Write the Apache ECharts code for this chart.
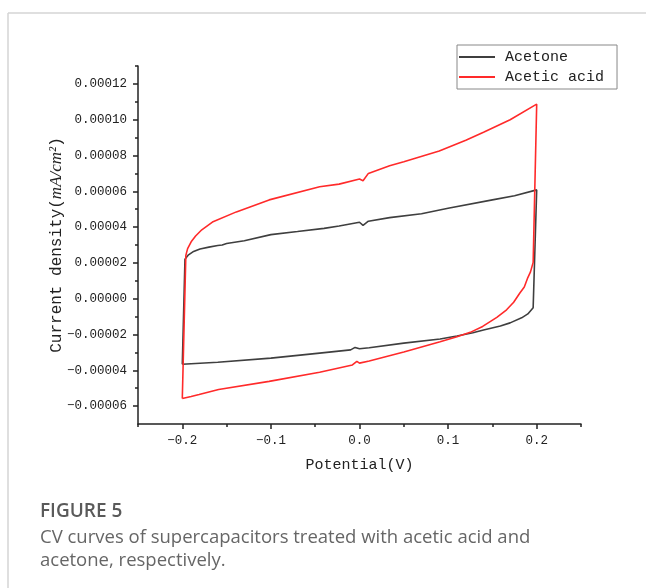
<!DOCTYPE html>
<html>
<head>
<meta charset="utf-8">
<script src="https://cdn.jsdelivr.net/npm/echarts@6/dist/echarts.min.js"></script>
<style>
  html, body { margin: 0; padding: 0; background: #fff; }
  #chart { width: 646px; height: 588px; }
</style>
</head>
<body>
<div id="chart"></div>
<script>
// CV loops: potential (V) and current density (mA/cm2)
var acetonePotential = [-0.200, -0.197, -0.193, -0.188, -0.180, -0.170, -0.160, -0.155, -0.150, -0.130, -0.100, -0.070, -0.040, -0.023, 0.000, 0.004, 0.010, 0.034, 0.070, 0.100, 0.150, 0.175, 0.200,
  0.196, 0.190, 0.183, 0.170, 0.159, 0.140, 0.128, 0.110, 0.091, 0.050, 0.011, 0.000, -0.005, -0.010, -0.045, -0.100, -0.160, -0.200];
var acetoneCurrent = [-0.0000366, 0.0000220, 0.0000245, 0.0000262, 0.0000278, 0.0000288, 0.0000297, 0.0000300, 0.0000308, 0.0000324, 0.0000358, 0.0000375, 0.0000393, 0.0000406, 0.0000427, 0.0000410, 0.0000433, 0.0000453, 0.0000475, 0.0000505, 0.0000552, 0.0000575, 0.0000608,
  -0.0000050, -0.0000085, -0.0000107, -0.0000135, -0.0000152, -0.0000175, -0.0000190, -0.0000208, -0.0000225, -0.0000248, -0.0000274, -0.0000280, -0.0000272, -0.0000286, -0.0000304, -0.0000332, -0.0000355, -0.0000366];

var aceticPotential = [-0.200, -0.196, -0.194, -0.190, -0.185, -0.178, -0.166, -0.139, -0.102, -0.045, -0.023, 0.000, 0.004, 0.010, 0.034, 0.050, 0.090, 0.120, 0.140, 0.170, 0.200,
  0.196, 0.193, 0.190, 0.186, 0.181, 0.174, 0.166, 0.155, 0.139, 0.125, 0.110, 0.091, 0.050, 0.011, 0.000, -0.003, -0.008, -0.045, -0.102, -0.159, -0.181, -0.190, -0.200];
var aceticCurrent = [-0.0000558, 0.0000242, 0.0000280, 0.0000318, 0.0000350, 0.0000385, 0.0000428, 0.0000485, 0.0000552, 0.0000625, 0.0000640, 0.0000669, 0.0000659, 0.0000700, 0.0000743, 0.0000765, 0.0000825, 0.0000885, 0.0000930, 0.0001000, 0.0001087,
  0.0000203, 0.0000150, 0.0000118, 0.0000065, 0.0000032, -0.0000020, -0.0000062, -0.0000104, -0.0000155, -0.0000188, -0.0000212, -0.0000240, -0.0000298, -0.0000348, -0.0000360, -0.0000350, -0.0000370, -0.0000411, -0.0000462, -0.0000507, -0.0000535, -0.0000546, -0.0000558];

var xTickLabels = [-0.2, -0.1, 0.0, 0.1, 0.2];
var xMinorTicks = [-0.25, -0.15, -0.05, 0.05, 0.15, 0.25];
var yTickLabels = [-0.00006, -0.00004, -0.00002, 0, 0.00002, 0.00004, 0.00006, 0.00008, 0.00010, 0.00012];
var yMinorTicks = [-0.00005, -0.00003, -0.00001, 0.00001, 0.00003, 0.00005, 0.00007, 0.00009, 0.00011, 0.00013];

function pairs(xs, ys) {
  return xs.map(function (x, i) { return [x, ys[i]]; });
}

var monoFont = 'Liberation Mono';
var chart = echarts.init(document.getElementById('chart'));
var option = {
  backgroundColor: '#fff',
  animation: false,
  title: {
    text: 'FIGURE 5',
    subtext: 'CV curves of supercapacitors treated with acetic acid and\nacetone, respectively.',
    left: 35,
    top: 497,
    itemGap: 5,
    textStyle: { fontFamily: 'Open Sans', fontSize: 19, fontWeight: 600, color: '#5a5a5a' },
    subtextStyle: { fontFamily: 'Open Sans', fontSize: 18.5, color: '#666', lineHeight: 23 }
  },
  graphic: [
    { type: 'line', shape: { x1: 8, y1: 13, x2: 646, y2: 13 }, style: { stroke: '#d4d4d4', lineWidth: 1.5 } },
    { type: 'line', shape: { x1: 8, y1: 13, x2: 8, y2: 588 }, style: { stroke: '#d4d4d4', lineWidth: 1.5 } }
  ],
  legend: {
    data: ['Acetone', 'Acetic acid'],
    orient: 'vertical',
    left: 457,
    top: 45,
    padding: [2, 13, 2, 2],
    icon: 'rect',
    itemWidth: 36,
    itemHeight: 2,
    itemGap: 0,
    borderColor: '#888',
    borderWidth: 1,
    textStyle: { fontFamily: monoFont, fontSize: 15, color: '#222', lineHeight: 20, padding: [0, 0, 0, 5] }
  },
  grid: { left: 138, top: 66, right: 65, bottom: 164 },
  xAxis: [
    {
      type: 'value',
      min: -0.25,
      max: 0.25,
      interval: 0.05,
      name: 'Potential(V)',
      nameLocation: 'middle',
      nameGap: 34,
      nameTextStyle: { fontFamily: monoFont, fontSize: 15, color: '#222' },
      axisLine: { onZero: false, lineStyle: { color: '#222', width: 1.5 } },
      axisTick: { customValues: xTickLabels, length: 5, lineStyle: { color: '#222', width: 1.5 } },
      axisLabel: {
        customValues: xTickLabels,
        margin: 10,
        fontFamily: monoFont,
        fontSize: 12.5,
        color: '#222',
        formatter: function (v) { return v.toFixed(1).replace('-', '\u2212'); }
      },
      splitLine: { show: false }
    },
    {
      type: 'value',
      min: -0.25,
      max: 0.25,
      interval: 0.05,
      position: 'bottom',
      axisLine: { show: false, onZero: false },
      axisTick: { customValues: xMinorTicks, length: 3, lineStyle: { color: '#222', width: 1.5 } },
      axisLabel: { show: false },
      splitLine: { show: false }
    }
  ],
  yAxis: [
    {
      type: 'value',
      min: -0.00007,
      max: 0.00013,
      interval: 0.00001,
      name: '{a|Current density}{b|(}{c|mA/cm\u00b2}{b|)}',
      nameLocation: 'middle',
      nameGap: 73,
      nameMoveOverlap: false,
      nameTextStyle: {
        rich: {
          a: { fontFamily: monoFont, fontSize: 16, color: '#222' },
          b: { fontFamily: monoFont, fontSize: 16, color: '#222' },
          c: { fontFamily: 'Liberation Serif', fontStyle: 'italic', fontSize: 17, color: '#222' }
        }
      },
      axisLine: { onZero: false, lineStyle: { color: '#222', width: 1.5 } },
      axisTick: { customValues: yTickLabels, length: 5, lineStyle: { color: '#222', width: 1.5 } },
      axisLabel: {
        customValues: yTickLabels,
        margin: 11,
        fontFamily: monoFont,
        fontSize: 12.5,
        color: '#222',
        formatter: function (v) { return v.toFixed(5).replace('-', '\u2212'); }
      },
      splitLine: { show: false }
    },
    {
      type: 'value',
      min: -0.00007,
      max: 0.00013,
      interval: 0.00001,
      position: 'left',
      axisLine: { show: false, onZero: false },
      axisTick: { customValues: yMinorTicks, length: 3, lineStyle: { color: '#222', width: 1.5 } },
      axisLabel: { show: false },
      splitLine: { show: false }
    }
  ],
  series: [
    {
      name: 'Acetone',
      type: 'line',
      symbol: 'none',
      color: '#3f3f3f',
      lineStyle: { width: 1.6 },
      data: pairs(acetonePotential, acetoneCurrent)
    },
    {
      name: 'Acetic acid',
      type: 'line',
      symbol: 'none',
      color: '#ff2a2a',
      lineStyle: { width: 1.6 },
      data: pairs(aceticPotential, aceticCurrent)
    }
  ]
};
option && chart.setOption(option);
</script>
</body>
</html>
